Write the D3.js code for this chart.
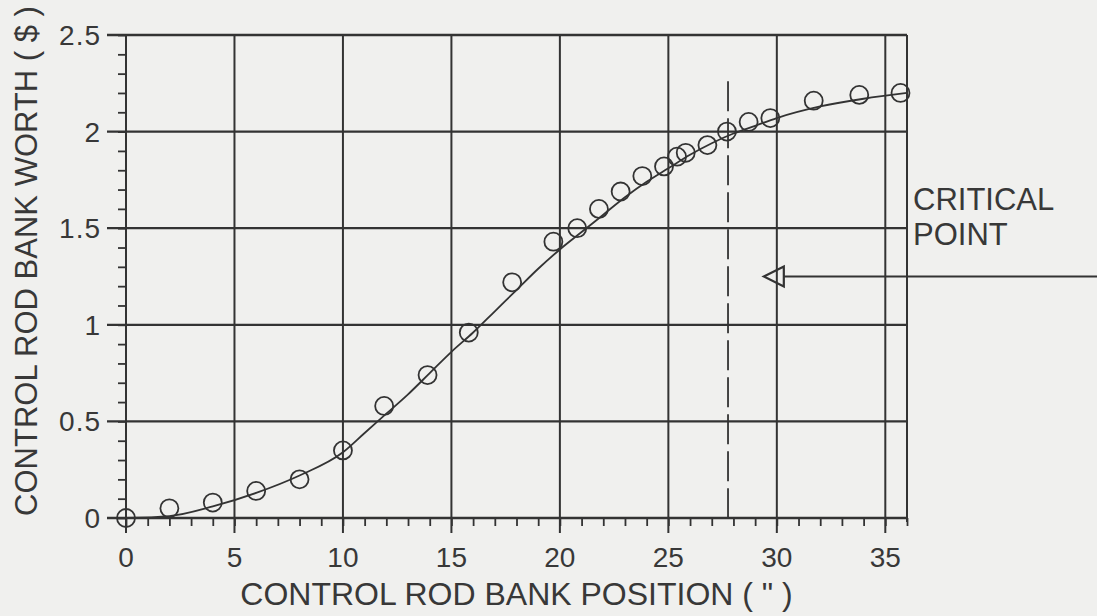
<!DOCTYPE html>
<html lang="en">
<head>
<meta charset="utf-8">
<title>Control rod bank worth</title>
<script src="https://cdn.jsdelivr.net/npm/d3@7"></script>
<style>
  body { margin:0; background:#f0f0ee; }
  svg { display:block; }
  text { font-family:"Liberation Sans", Arial, Helvetica, sans-serif; fill:#383838; }
</style>
</head>
<body>
<script>
// measured points (circles)
var rodPosition = [0, 2, 4, 6, 8, 10, 11.9, 13.9, 15.8, 17.8, 19.7, 20.8, 21.8, 22.8, 23.8, 24.8, 25.4, 25.8, 26.8, 27.7, 28.7, 29.7, 31.7, 33.8, 35.7];
var rodWorth    = [0, 0.05, 0.08, 0.14, 0.2, 0.35, 0.58, 0.74, 0.96, 1.22, 1.43, 1.5, 1.6, 1.69, 1.77, 1.82, 1.87, 1.89, 1.93, 2.0, 2.05, 2.07, 2.16, 2.19, 2.2];

// fitted curve
var curvePosition = [0, 2, 4, 6, 8, 10, 11, 12, 13, 14, 15, 16, 17, 18, 19, 20, 21, 22, 23, 24, 25, 26, 27, 28, 29, 30, 32, 34, 36];
var curveWorth    = [0, 0.01, 0.06, 0.13, 0.22, 0.34, 0.44, 0.54, 0.64, 0.75, 0.86, 0.96, 1.07, 1.18, 1.29, 1.39, 1.48, 1.57, 1.66, 1.74, 1.81, 1.88, 1.94, 1.99, 2.03, 2.07, 2.13, 2.17, 2.2];

var xTicks = [0, 5, 10, 15, 20, 25, 30, 35];
var yTicks = [0, 0.5, 1, 1.5, 2, 2.5];
var yTickLabels = ["0", "0.5", "1", "1.5", "2", "2.5"];

var criticalPos = 27.75;    // dashed line
var criticalTop = 2.26;
var arrowWorth = 1.25;      // arrow pointing at critical point
var arrowTip = 29.4;

var width = 1097, height = 616;

var x = d3.scaleLinear().domain([0, 36]).range([126, 907]);
var y = d3.scaleLinear().domain([0, 2.5]).range([518, 35]);

var svg = d3.select("body").append("svg")
    .attr("width", width)
    .attr("height", height);

var ink = "#333";

// minor ticks
svg.append("g")
   .attr("transform", "translate(0," + y(0) + ")")
   .call(d3.axisBottom(x).tickValues(d3.range(0, 37, 1)).tickSize(8).tickFormat("").tickSizeOuter(0))
   .call(function(g){ g.select(".domain").remove(); g.selectAll("line").attr("stroke", ink).attr("stroke-width", 1.8); });

svg.append("g")
   .attr("transform", "translate(" + x(0) + ",0)")
   .call(d3.axisLeft(y).tickValues(d3.range(0, 2.51, 0.1)).tickSize(8).tickFormat("").tickSizeOuter(0))
   .call(function(g){ g.select(".domain").remove(); g.selectAll("line").attr("stroke", ink).attr("stroke-width", 1.8); });

// grid lines (with the major ticks sticking out)
svg.append("g").selectAll("line")
   .data(xTicks)
   .enter().append("line")
   .attr("x1", function(d){ return x(d); })
   .attr("x2", function(d){ return x(d); })
   .attr("y1", y(2.5))
   .attr("y2", y(0) + 15)
   .attr("stroke", ink)
   .attr("stroke-width", 2);

svg.append("g").selectAll("line")
   .data(yTicks)
   .enter().append("line")
   .attr("x1", x(0) - 19)
   .attr("x2", x(36))
   .attr("y1", function(d){ return y(d); })
   .attr("y2", function(d){ return y(d); })
   .attr("stroke", ink)
   .attr("stroke-width", 2.3);

// right border
svg.append("line")
   .attr("x1", x(36)).attr("x2", x(36))
   .attr("y1", y(2.5)).attr("y2", y(0) + 4)
   .attr("stroke", ink).attr("stroke-width", 2);

// tick labels
svg.append("g").selectAll("text")
   .data(xTicks)
   .enter().append("text")
   .attr("x", function(d){ return x(d); })
   .attr("y", y(0) + 49)
   .attr("text-anchor", "middle")
   .style("font-size", "28px")
   .text(function(d){ return d; });

svg.append("g").selectAll("text")
   .data(yTicks)
   .enter().append("text")
   .attr("x", x(0) - 25)
   .attr("y", function(d){ return y(d); })
   .attr("dy", "0.36em")
   .attr("text-anchor", "end")
   .style("font-size", "28px")
   .style("letter-spacing", "1px")
   .text(function(d, i){ return yTickLabels[i]; });

// axis titles
svg.append("text")
   .attr("x", (x(0) + x(36)) / 2)
   .attr("y", 605)
   .attr("text-anchor", "middle")
   .style("font-size", "32px")
   .text("CONTROL ROD BANK POSITION ( \" )");

svg.append("text")
   .attr("transform", "translate(37,261) rotate(-90)")
   .attr("text-anchor", "middle")
   .style("font-size", "31px")
   .text("CONTROL ROD BANK WORTH ( $ )");

// critical position
svg.append("line")
   .attr("x1", x(criticalPos)).attr("x2", x(criticalPos))
   .attr("y1", y(criticalTop)).attr("y2", y(0))
   .attr("stroke", ink)
   .attr("stroke-width", 1.8)
   .attr("stroke-dasharray", "30,7");

// fitted curve
var line = d3.line()
   .x(function(d, i){ return x(curvePosition[i]); })
   .y(function(d){ return y(d); })
   .curve(d3.curveMonotoneX);

svg.append("path")
   .datum(curveWorth)
   .attr("d", line)
   .attr("fill", "none")
   .attr("stroke", ink)
   .attr("stroke-width", 1.8);

// measured points
svg.append("g").selectAll("circle")
   .data(rodWorth)
   .enter().append("circle")
   .attr("cx", function(d, i){ return x(rodPosition[i]); })
   .attr("cy", function(d){ return y(d); })
   .attr("r", 9)
   .attr("fill", "none")
   .attr("stroke", ink)
   .attr("stroke-width", 1.8);

// arrow + label
var ay = y(arrowWorth), ax = x(arrowTip);
svg.append("line")
   .attr("x1", ax + 20).attr("x2", width)
   .attr("y1", ay).attr("y2", ay)
   .attr("stroke", ink).attr("stroke-width", 2);

svg.append("path")
   .attr("d", "M" + ax + "," + ay + "L" + (ax + 20) + "," + (ay - 10) + "L" + (ax + 20) + "," + (ay + 10) + "Z")
   .attr("fill", "none")
   .attr("stroke", ink)
   .attr("stroke-width", 2.2);

svg.append("text")
   .attr("x", 913).attr("y", 210)
   .style("font-size", "31px")
   .text("CRITICAL");
svg.append("text")
   .attr("x", 913).attr("y", 245)
   .style("font-size", "31px")
   .text("POINT");
</script>
</body>
</html>
